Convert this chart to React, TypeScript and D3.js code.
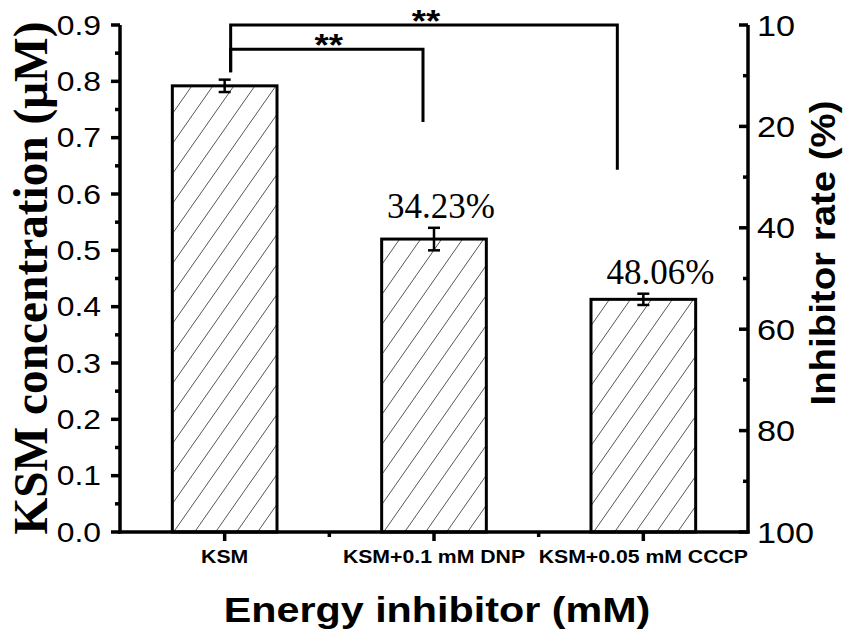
import * as d3 from "d3";

const categories = ["KSM", "KSM+0.1 mM DNP", "KSM+0.05 mM CCCP"];
const concentration = [0.792, 0.52, 0.413];
const concentrationErr = [0.011, 0.02, 0.01];
const rateLabels = ["", "34.23%", "48.06%"];

const leftTicks = [0, 0.1, 0.2, 0.3, 0.4, 0.5, 0.6, 0.7, 0.8, 0.9];
const rightTickValues = [0, 20, 40, 60, 80, 100];
const rightTickLabels = ["10", "20", "40", "60", "80", "100"];

// significance brackets: from group, to group, bracket height, end of each leg (µM)
const bracketFrom = ["KSM", "KSM"];
const bracketTo = ["KSM+0.1 mM DNP", "KSM+0.05 mM CCCP"];
const bracketLevel = [0.857, 0.9];
const bracketStart = [0.816, 0.816];
const bracketEnd = [0.728, 0.643];
const bracketText = ["**", "**"];

const W = 851;
const H = 636;
const left = 120;
const right = 748;
const top = 25;
const bottom = 532;
const SX = 1.18; // the sans text in the figure is set wide

// small horizontal nudges of the annotations relative to the bar centres
const labelDx = [0, 7, 17];
const bracketFromDx = [6, 6];
const bracketToDx = [-11, -26];

export default function App() {
  const x = d3.scaleBand<string>().domain(categories).range([left, right]).paddingInner(0.5).paddingOuter(0.25);
  const y = d3.scaleLinear().domain([0, 0.9]).range([bottom, top]);
  // right axis runs downward: 10 at the top, 100 at the bottom
  const yr = d3.scaleLinear().domain([0, 100]).range([top, bottom]);
  const cx = (c: string) => (x(c) ?? 0) + x.bandwidth() / 2;

  const leftMinor = d3.range(0.05, 0.9, 0.1);
  const rightMinor = d3.range(10, 100, 20);
  const xMinor = categories.slice(1).map((c) => (x(c) ?? 0) - (x.step() - x.bandwidth()) / 2);

  const sans = "'Liberation Sans', Arial, sans-serif";
  const serif = "'Liberation Serif', 'Times New Roman', serif";

  return (
    <svg width={W} height={H} style={{ position: "absolute", left: 0, top: 0, background: "#fff" }}>
      <defs>
        <pattern id="hatch" patternUnits="userSpaceOnUse" width={21} height={30}>
          <path d="M0,30 L21,0 M-5,7 L5,-7 M16,37 L26,23" stroke="#555" strokeWidth={1} />
        </pattern>
      </defs>

      {/* bars */}
      {categories.map((c, i) => (
        <rect
          key={c}
          x={x(c)}
          y={y(concentration[i])}
          width={x.bandwidth()}
          height={y(0) - y(concentration[i])}
          fill="url(#hatch)"
          stroke="#000"
          strokeWidth={3}
        />
      ))}

      {/* error bars */}
      {categories.map((c, i) => {
        const hi = y(concentration[i] + concentrationErr[i]);
        const lo = y(concentration[i] - concentrationErr[i]);
        const xc = cx(c);
        return (
          <g key={c} stroke="#000" strokeWidth={2.5}>
            <line x1={xc} x2={xc} y1={hi} y2={lo} />
            <line x1={xc - 6} x2={xc + 6} y1={hi} y2={hi} />
            <line x1={xc - 6} x2={xc + 6} y1={lo} y2={lo} />
          </g>
        );
      })}

      {/* inhibition labels */}
      {categories.map((c, i) =>
        rateLabels[i] ? (
          <text
            key={c}
            x={cx(c) + labelDx[i]}
            y={y(concentration[i] + concentrationErr[i]) - 10}
            textAnchor="middle"
            fontFamily={serif}
            fontSize={35}
          >
            {rateLabels[i]}
          </text>
        ) : null
      )}

      {/* significance brackets */}
      {bracketFrom.map((f, i) => {
        const x1 = cx(f) + bracketFromDx[i];
        const x2 = cx(bracketTo[i]) + bracketToDx[i];
        const yl = y(bracketLevel[i]);
        return (
          <g key={i}>
            <path
              d={`M${x1},${y(bracketStart[i])} V${yl} H${x2} V${y(bracketEnd[i])}`}
              fill="none"
              stroke="#000"
              strokeWidth={3}
            />
            <text
              transform={`translate(${(x1 + x2) / 2 + 2},${yl + 7}) scale(${SX},1)`}
              textAnchor="middle"
              fontFamily={sans}
              fontWeight="bold"
              fontSize={31}
            >
              {bracketText[i]}
            </text>
          </g>
        );
      })}

      {/* left axis */}
      <g stroke="#000" strokeWidth={3.5}>
        <line x1={left} x2={left} y1={top} y2={bottom + 1.5} />
        {leftTicks.map((t) => (
          <line key={t} x1={left - 9} x2={left} y1={y(t)} y2={y(t)} />
        ))}
        {leftMinor.map((t) => (
          <line key={t} x1={left - 5} x2={left} y1={y(t)} y2={y(t)} />
        ))}
      </g>
      {leftTicks.map((t) => (
        <text
          key={t}
          transform={`translate(${left - 19},${y(t) + 9.5}) scale(${SX},1)`}
          textAnchor="end"
          fontFamily={sans}
          fontSize={27}
        >
          {d3.format(".1f")(t)}
        </text>
      ))}

      {/* right axis */}
      <g stroke="#000" strokeWidth={3.5}>
        <line x1={right} x2={right} y1={top} y2={bottom + 1.5} />
        {rightTickValues.map((t) => (
          <line key={t} x1={right - 9} x2={right} y1={yr(t)} y2={yr(t)} />
        ))}
        {rightMinor.map((t) => (
          <line key={t} x1={right - 5} x2={right} y1={yr(t)} y2={yr(t)} />
        ))}
      </g>
      {rightTickValues.map((t, i) => (
        <text
          key={t}
          transform={`translate(${right + 9},${yr(t) + 10.5}) scale(${SX},1)`}
          fontFamily={sans}
          fontSize={29}
        >
          {rightTickLabels[i]}
        </text>
      ))}

      {/* x axis */}
      <g stroke="#000" strokeWidth={3.5}>
        <line x1={left - 2} x2={right + 1.5} y1={bottom} y2={bottom} />
        {categories.map((c) => (
          <line key={c} x1={cx(c)} x2={cx(c)} y1={bottom} y2={bottom + 9} />
        ))}
        {xMinor.map((m) => (
          <line key={m} x1={m} x2={m} y1={bottom} y2={bottom + 5} />
        ))}
      </g>
      {categories.map((c) => (
        <text
          key={c}
          transform={`translate(${cx(c)},${bottom + 31}) scale(${SX},1)`}
          textAnchor="middle"
          fontFamily={sans}
          fontWeight="bold"
          fontSize={18}
        >
          {c}
        </text>
      ))}

      {/* titles */}
      <text
        transform={`translate(437,622) scale(${SX},1)`}
        textAnchor="middle"
        fontFamily={sans}
        fontWeight="bold"
        fontSize={35}
      >
        Energy inhibitor (mM)
      </text>
      <text
        transform="translate(47,278) rotate(-90)"
        textAnchor="middle"
        fontFamily={serif}
        fontWeight="bold"
        fontSize={48}
        textLength={513}
        lengthAdjust="spacingAndGlyphs"
      >
        KSM concentration (μM)
      </text>
      <text
        transform="translate(835,253) rotate(-90)"
        textAnchor="middle"
        fontFamily={sans}
        fontWeight="bold"
        fontSize={35}
        textLength={305}
        lengthAdjust="spacingAndGlyphs"
      >
        Inhibitor rate (%)
      </text>
    </svg>
  );
}
